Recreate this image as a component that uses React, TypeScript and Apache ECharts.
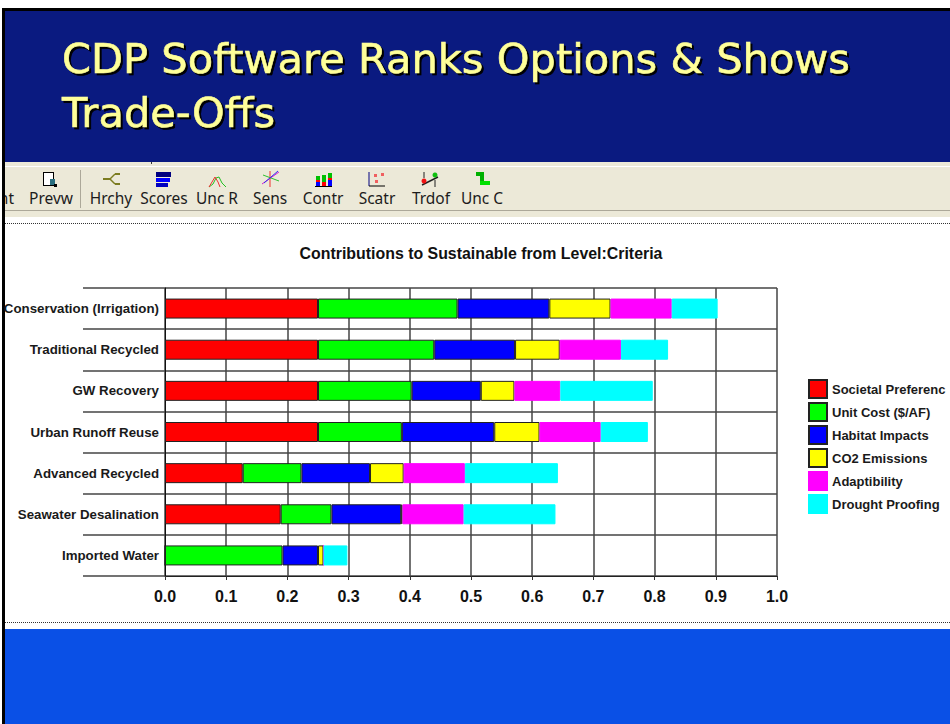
import React, { useEffect, useRef } from "react";
import * as echarts from "echarts";

const categories = ["Conservation (Irrigation)", "Traditional Recycled", "GW Recovery", "Urban Runoff Reuse", "Advanced Recycled", "Seawater Desalination", "Imported Water"];
const societal = [0.25, 0.25, 0.25, 0.25, 0.127, 0.189, 0];
const unitCost = [0.228, 0.19, 0.153, 0.137, 0.096, 0.083, 0.192];
const habitat = [0.15, 0.132, 0.113, 0.151, 0.112, 0.114, 0.058];
const co2 = [0.1, 0.073, 0.055, 0.074, 0.055, 0.002, 0.009];
const adaptibility = [0.1, 0.1, 0.075, 0.1, 0.1, 0.1, 0];
const drought = [0.075, 0.077, 0.151, 0.077, 0.152, 0.15, 0.039];
const seriesNames = ["Societal Preferenc", "Unit Cost ($/AF)", "Habitat Impacts", "CO2 Emissions", "Adaptibility", "Drought Proofing"];
const seriesValues = [societal, unitCost, habitat, co2, adaptibility, drought];
const seriesColors = ["#ff0000", "#00ff00", "#0000ff", "#ffff00", "#ff00ff", "#00ffff"];
const titleLines = ["CDP Software Ranks Options & Shows", "Trade-Offs"];
const toolbarLabels: [string, number][] = [["Prevw", 51], ["Hrchy", 111], ["Scores", 164], ["Unc R", 217], ["Sens", 270], ["Contr", 323], ["Scatr", 377], ["Trdof", 431], ["Unc C", 482]];

const rect = (x: number, y: number, width: number, height: number, fill: string, z = -10) => ({ type: "rect", shape: { x, y, width, height }, style: { fill }, z, silent: true });
const line = (x1: number, y1: number, x2: number, y2: number, stroke: string, lineWidth = 1, lineDash?: number[], z = -5) => ({ type: "line", shape: { x1, y1, x2, y2 }, style: { stroke, lineWidth, lineDash }, z, silent: true });

const icons = [
  // preview
  rect(43, 172, 11, 14, "#000000", -4), rect(44, 173, 9, 12, "#ffffff", -3), rect(50, 179, 5, 6, "#2a6f80", -2), rect(54, 184, 3, 3, "#000000", -2),
  // hierarchy
  line(103, 179, 110, 179, "#7c7c20", 2), line(110, 179, 115, 174, "#7c7c20", 1.5), line(110, 179, 115, 184, "#7c7c20", 1.5), line(115, 174, 120, 174, "#7c7c20", 2), line(115, 184, 120, 184, "#7c7c20", 2),
  // scores
  rect(156, 172, 15, 5, "#000080", -4), rect(156, 178, 14, 4, "#0000ff", -4), rect(156, 183, 12, 4, "#0000c0", -4),
  // unc r
  { type: "polyline", shape: { points: [[209, 187], [213, 184], [216, 178], [219, 177], [222, 183], [226, 187]] }, style: { stroke: "#22c022", fill: "none", lineWidth: 1 }, z: -4, silent: true },
  { type: "polyline", shape: { points: [[209, 187], [212, 182], [215, 177], [218, 182], [220, 187]] }, style: { stroke: "#f03030", fill: "none", lineWidth: 1 }, z: -4, silent: true },
  // sens
  line(270, 171, 270, 187, "#f03030"), line(262, 184, 279, 172, "#d020d0"), line(263, 175, 279, 181, "#30c030"), line(264, 183, 278, 171, "#3030f0"),
  // contr
  rect(316, 176, 4, 10, "#ff0000", -4), rect(316, 176, 4, 4, "#00c000", -3), rect(316, 182, 4, 4, "#0000ff", -3),
  rect(322, 175, 4, 11, "#00c000", -4), rect(322, 182, 4, 4, "#ff0000", -3),
  rect(328, 173, 4, 13, "#ff0000", -4), rect(328, 173, 4, 5, "#00c000", -3), rect(328, 180, 4, 6, "#0000ff", -3), line(315, 186.5, 332, 186.5, "#000000"),
  // scatr
  line(369, 172, 369, 186, "#000080"), line(369, 186, 385, 186, "#000000"), rect(374, 174, 3, 3, "#f06060", -4), rect(381, 173, 3, 3, "#f06060", -4), rect(375, 180, 3, 3, "#f06060", -4),
  // trdof
  { type: "circle", shape: { cx: 424, cy: 181, r: 2.5 }, style: { fill: "#f01010" }, z: -4, silent: true },
  { type: "circle", shape: { cx: 435, cy: 175, r: 2.5 }, style: { fill: "#10c010" }, z: -4, silent: true },
  line(422, 185, 438, 177, "#202020", 1.5), line(424, 172, 424, 178, "#202020"), line(435, 180, 435, 187, "#202020"),
  // unc c
  rect(476, 172, 8, 4, "#00b000", -4), rect(480, 176, 4, 5, "#00b000", -4), rect(480, 181, 10, 4, "#00e000", -4),
];

const titleText = titleLines.map((text, i) => ({
  type: "text", x: 62, y: 58 + i * 54, silent: true, z: 5,
  style: { text, fill: "#ffff99", stroke: "#ffff99", lineWidth: 0.6, font: "41.6px 'DejaVu Sans'", verticalAlign: "middle" },
}));
const toolbarText = toolbarLabels.map(([text, x]) => ({
  type: "text", x, y: 198, silent: true, z: 5,
  style: { text, fill: "#1c1c1c", font: "15.5px 'Noto Sans'", align: "center", verticalAlign: "middle" },
}));

export default function App() {
  const ref = useRef<HTMLDivElement>(null);
  useEffect(() => {
    const chart = echarts.init(ref.current!, undefined, { renderer: "svg" });
    chart.setOption({
      animation: false,
      backgroundColor: "#ffffff",
      title: {
        text: "Contributions to Sustainable from Level:Criteria",
        left: 476, top: 240, textAlign: "center",
        textStyle: { fontFamily: "Liberation Sans", fontSize: 15.9, fontWeight: "bold", color: "#111111" },
      },
      legend: {
        left: 803, top: 374, orient: "vertical", itemWidth: 18, itemHeight: 18, itemGap: 3, selectedMode: false,
        icon: "rect",
        textStyle: { fontFamily: "Liberation Sans", fontSize: 13, fontWeight: "bold", color: "#1a1a1a" },
        data: seriesNames,
      },
      grid: { left: 165, right: 173, top: 288, bottom: 148 },
      xAxis: {
        type: "value", min: 0, max: 1, interval: 0.1,
        axisLine: { show: true, lineStyle: { color: "#222222" } },
        axisTick: { show: true, length: 4, lineStyle: { color: "#333333" } },
        splitLine: { show: true, lineStyle: { color: "#444444", width: 1.5 } },
        axisLabel: { margin: 12, fontFamily: "Liberation Sans", fontSize: 16, fontWeight: "bold", color: "#111111", formatter: (v: number) => v.toFixed(1) },
      },
      yAxis: {
        type: "category", inverse: true, data: categories,
        axisLine: { show: true, lineStyle: { color: "#111111" } },
        axisTick: { show: true, length: 82, lineStyle: { color: "#444444", width: 1.5 } },
        splitLine: { show: true, lineStyle: { color: "#444444", width: 1.5 } },
        axisLabel: { margin: 6, fontFamily: "Liberation Sans", fontSize: 13.3, fontWeight: "bold", color: "#1a1a1a" },
      },
      series: seriesNames.map((name, i) => ({
        name, type: "bar", stack: "total", barWidth: 20, data: seriesValues[i],
        itemStyle: { color: seriesColors[i], borderColor: i < 4 ? "#222222" : seriesColors[i], borderWidth: 1 },
      })),
      graphic: { elements: [
        rect(0, 0, 950, 724, "#ffffff", -20),
        rect(2, 8, 948, 716, "#000000", -19),
        rect(5, 11, 945, 151, "#0a1a80", -18),
        rect(5, 162, 945, 4, "#ece9d8", -18),
        rect(5, 166, 945, 463, "#ffffff", -18),
        rect(5, 167, 945, 50, "#ece9d8", -17),
        rect(5, 210, 945, 1, "#aca899", -16),
        rect(5, 629, 945, 95, "#0a50e6", -18),
        rect(80, 170, 1, 38, "#aca899", -16),
        rect(151, 162, 1, 2, "#333333", -16),
        line(5, 223.5, 950, 223.5, "#333333", 1, [1, 1]),
        line(5, 622.5, 950, 622.5, "#333333", 1, [1, 1]),
        ...icons,
        ...titleText,
        ...toolbarText,
        { type: "text", x: 14, y: 198, silent: true, z: 5, style: { text: "nt", fill: "#1c1c1c", font: "15.5px 'Noto Sans'", align: "right", verticalAlign: "middle" } },
        rect(0, 167, 2, 50, "#ffffff", 6),
        rect(2, 167, 3, 50, "#000000", 6),
      ] },
    });
    ref.current!.querySelectorAll("text").forEach((t) => {
      if (titleLines.includes(t.textContent || "")) (t as unknown as HTMLElement).style.filter = "drop-shadow(2px 2px 0 #000000)";
    });
    return () => chart.dispose();
  }, []);
  return <div ref={ref} style={{ position: "fixed", left: 0, top: 0, width: 950, height: 724 }} />;
}
